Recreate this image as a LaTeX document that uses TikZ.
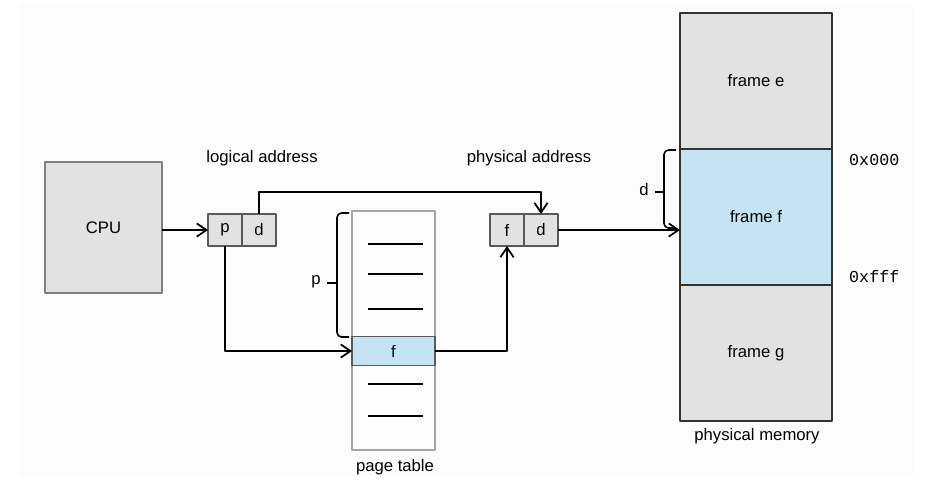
\documentclass[tikz,border=0pt]{standalone}
\usepackage{fontspec}
\setmainfont{Liberation Sans}
\setmonofont{Liberation Mono}
\usetikzlibrary{calc,arrows.meta}
\definecolor{boxgray}{HTML}{E2E2E2}
\definecolor{frameblue}{HTML}{C4E3F3}
\definecolor{bgwhite}{HTML}{FCFCFC}

\begin{document}
\begin{tikzpicture}[x=0.02cm, y=-0.02cm, line join=round,
    font=\fontsize{9.5}{11}\selectfont,
    box/.style={draw=black!65, fill=boxgray, line width=0.6pt, inner sep=0pt, outer sep=0pt},
    field/.style={box, minimum width=0.68cm, minimum height=0.64cm},
    memframe/.style={draw=black!80, line width=0.8pt, inner sep=0pt, outer sep=0pt,
        minimum width=3.04cm, minimum height=2.72cm},
    link/.style={line width=1pt, -{Straight Barb[length=5.5pt,width=7.5pt]}},
    bracel/.style={line width=0.9pt, rounded corners=0.09cm},
    entry/.style={line width=0.8pt}]

    \useasboundingbox (0,0) rectangle (928,481);
    \fill[bgwhite] (20,5) rectangle (913,476);

    % CPU
    \node[box, draw=black!50, minimum width=2.34cm, minimum height=2.62cm] (cpu) at (103.5,227.5) {CPU};

    % logical address
    \node[field] (p) at (225,230) {p};
    \node[field] (d) at (259,230) {d};
    \node (la) at (262,158) {logical address};

    % physical address
    \node[field] (f) at (507,230) {f};
    \node[field] (pd) at (541,230) {d};
    \node (pa) at (529,158) {physical address};

    % page table
    \node[draw=black!35, line width=0.8pt, inner sep=0pt, outer sep=0pt,
        minimum width=1.66cm, minimum height=4.78cm] (pt) at (393.5,330.5) {};
    \node[box, fill=frameblue, minimum width=1.66cm, minimum height=0.58cm] (ptf) at (393.5,351) {f};
    \foreach \y in {244,274,309,384,416}
        \draw[entry] (368,\y) -- (423,\y);
    \node (ptl) at (395,467) {page table};

    % physical memory
    \node[memframe, fill=boxgray] (fe) at (756,81) {frame e};
    \node[memframe, fill=frameblue, anchor=north] (ff) at (fe.south) {frame f};
    \node[memframe, fill=boxgray, anchor=north] (fg) at (ff.south) {frame g};
    \node (pm) at (757,436) {physical memory};
    \node[anchor=west] (lo) at (843,160) {\texttt{0x000}};
    \node[anchor=west] (hi) at (843,277) {\texttt{0xfff}};

    % braces
    \draw[bracel] (349,213) -- (337,213) -- (337,337) -- (349,337);
    \draw[line width=0.9pt] (337,283) -- (327,283);
    \node (pl) at (316,282) {p};
    \draw[bracel] (676,150) -- (664,150) -- (664,228) -- (676,228);
    \draw[line width=0.9pt] (664,192) -- (655,192);
    \node (dl) at (644,190) {d};

    % arrows
    \coordinate (bend) at (400,192);
    \draw[link] (cpu.east |- p.west) -- (p.west);
    \draw[link] (d.north) |- (bend) -| (pd.north);
    \draw[link] (p.south) |- (ptf.west);
    \draw[link] (ptf.east) -| (f.south);
    \draw[link] (pd.east) -- (pd.east -| ff.west);
\end{tikzpicture}
\end{document}
